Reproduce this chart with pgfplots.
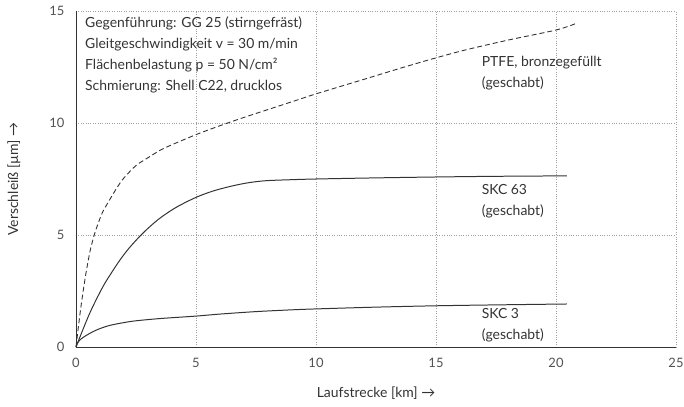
\documentclass[border=0pt]{standalone}
\usepackage{pgfplots}
\pgfplotsset{compat=1.18}
\usepackage{fontspec}
\setmainfont{Lato}
\definecolor{ink}{HTML}{333333}
\definecolor{gridc}{HTML}{A0A0A0}

\begin{document}
\begin{tikzpicture}[font=\fontsize{14}{21}\selectfont, text=ink]
\path[use as bounding box] (-76bp,-60bp) rectangle (608bp,347bp);
\begin{axis}[
  scale only axis,
  width=600bp, height=336bp,
  xmin=0, xmax=25, ymin=0, ymax=15,
  xtick={0,5,...,25}, ytick={0,5,10,15},
  axis x line=bottom, axis y line=left,
  axis line style={ink, line width=1pt, -},
  major tick length=0pt,
  grid=major,
  grid style={gridc, dotted, line width=0.6pt},
  /pgf/number format/assume math mode=true,
  ticklabel style={font=\fontsize{13}{15}\selectfont, text=ink!85},
  xticklabel style={yshift=-8bp},
  yticklabel style={xshift=-8bp},
  xlabel={Laufstrecke [km] →},
  ylabel={Verschleiß [µm] →},
  xlabel style={at={(axis description cs:0.5,0)}, anchor=center, yshift=-46bp},
  ylabel style={at={(axis description cs:0,0.5)}, anchor=center, xshift=0bp, yshift=62bp},
  clip=false,
]
% PTFE, bronzegefüllt
\addplot[ink, line width=0.9pt, dash pattern=on 5pt off 3pt, smooth, tension=0.5] coordinates {
  (0,0) (0.1,0.9) (0.2,1.75) (0.3,2.5) (0.4,3.2) (0.5,3.8) (0.6,4.35)
  (0.76,5.0) (0.9,5.45) (1.1,6.0) (1.39,6.55) (1.7,7.1) (2.0,7.55)
  (2.5,8.1) (3.0,8.45) (3.5,8.78) (4.0,9.03) (5,9.48) (6,9.88) (7,10.25)
  (8,10.6) (9,10.95) (10,11.3) (12,11.95) (14,12.6) (16,13.2) (18,13.7)
  (20,14.15) (20.85,14.45)
};
% SKC 63
\addplot[ink, line width=1pt, smooth, tension=0.5] coordinates {
  (0,0) (0.56,1.48) (1.11,2.67) (1.5,3.35) (1.81,3.85) (2.2,4.4) (2.71,5.0)
  (3.2,5.49) (3.61,5.84) (4.2,6.25) (5,6.68) (5.7,6.96) (6.39,7.16) (7.0,7.3)
  (7.5,7.38) (8.0,7.43) (9,7.47) (10,7.5) (12.5,7.55) (15,7.59) (17.5,7.62)
  (20.45,7.64)
};
% SKC 3
\addplot[ink, line width=1pt, smooth, tension=0.5] coordinates {
  (0,0) (0.05,0.15) (0.15,0.3) (0.3,0.43) (0.56,0.6) (0.9,0.78) (1.39,0.96)
  (2.0,1.09) (2.5,1.17) (3.5,1.27) (5,1.38) (6,1.47) (7.5,1.58) (9,1.66)
  (10,1.70) (12.5,1.78) (15,1.84) (17.5,1.88) (20.45,1.92)
};
\node[anchor=north west, align=left, inner sep=0pt] at (axis cs:0.375,14.75)
  {Gegenführung: GG 25 (stirngefräst)\\
   Gleitgeschwindigkeit v = 30 m/min\\
   Flächenbelastung p = 50 N/cm²\\
   Schmierung: Shell C22, drucklos};
\node[anchor=west, align=left, inner sep=0pt]
  at (axis cs:16.9,12.23) {PTFE, bronzegefüllt\\(geschabt)};
\node[anchor=west, align=left, inner sep=0pt]
  at (axis cs:16.9,6.52) {SKC 63\\(geschabt)};
\node[anchor=west, align=left, inner sep=0pt]
  at (axis cs:16.9,0.98) {SKC 3\\(geschabt)};
\end{axis}
\end{tikzpicture}
\end{document}
